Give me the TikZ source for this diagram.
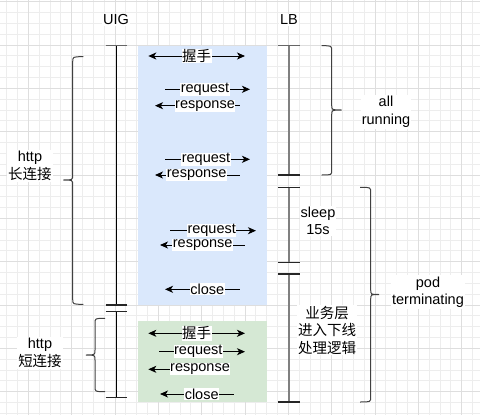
\documentclass[tikz,border=0pt]{standalone}
\usepackage{fontspec}
\setmainfont{Liberation Sans}
\newfontfamily\cjk{Noto Sans CJK SC}
\usetikzlibrary{arrows.meta}
\newcommand\drawmsg[7]{%
  \coordinate (#1a) at (#3,#5);
  \coordinate (#1b) at (#4,#5);
  \draw[msg,#2] (#1a) -- (#1b);
  \node[lbl] (#1) at (#6,#5) {#7};}
\begin{document}
\begin{tikzpicture}[x=1pt,y=-1pt,
  fs/.style={font=\fontsize{14.5}{17.5}\selectfont},
  txt/.style={fs, align=center, inner sep=1pt, fill=white},
  cjktxt/.style={font=\fontsize{14.5}{17.5}\selectfont\cjk, align=center, inner sep=1pt, fill=white},
  lbl/.style={fs, inner sep=0.6pt, fill=white},
  msg/.style={line width=1pt, draw=black},
  r/.style={-{Stealth[length=8pt,width=7pt,inset=2.2pt]}},
  l/.style={{Stealth[length=8pt,width=7pt,inset=2.2pt]}-},
  lr/.style={{Stealth[length=8pt,width=7pt,inset=2.2pt]}-{Stealth[length=8pt,width=7pt,inset=2.2pt]}},
  brc/.style={draw=black!75, line width=1pt},
  capline/.style={line width=1.3pt}]
\useasboundingbox (0,0) rectangle (480,415);
% grid
\foreach \i in {0,...,44}{
  \pgfmathsetmacro\gx{6.67+10.833*\i}
  \draw[black!7, line width=0.8pt] (\gx,0) -- (\gx,415);}
\foreach \j in {0,...,38}{
  \pgfmathsetmacro\gy{1.67+10.833*\j}
  \draw[black!7, line width=0.8pt] (0,\gy) -- (480,\gy);}
\foreach \i in {0,...,11}{
  \pgfmathsetmacro\gx{28.33+43.33*\i}
  \draw[black!13, line width=0.8pt] (\gx,0) -- (\gx,415);}
\foreach \j in {0,...,9}{
  \pgfmathsetmacro\gy{1.67+43.33*\j}
  \draw[black!13, line width=0.8pt] (0,\gy) -- (480,\gy);}
% boxes
\fill[fill={rgb,255:red,218;green,232;blue,252}] (137.7,45.7) rectangle (266.7,305);
\fill[fill={rgb,255:red,213;green,232;blue,212}] (137.7,320.7) rectangle (266.7,401.7);
% UIG lifeline
\coordinate (u0) at (116,45.7);
\coordinate (u1) at (116,305);
\coordinate (u2) at (116,311.7);
\coordinate (u3) at (116,397.7);
\draw[black, line width=1pt] (u0) -- (u1);
\draw[black, line width=1pt] (u2) -- (u3);
\draw[capline, black!60] ([xshift=-10.5pt]u0) -- ([xshift=10.5pt]u0);
\foreach \c in {u1,u2,u3}{\draw[capline, black!85] ([xshift=-10.5pt]\c) -- ([xshift=10.5pt]\c);}
% LB lifeline
\coordinate (b0) at (289,45.7);
\coordinate (b1) at (289,175);
\coordinate (b2) at (289,187.3);
\coordinate (b3) at (289,262.5);
\coordinate (b4) at (289,274);
\coordinate (b5) at (289,402);
\draw[black!50, line width=1.3pt] (b0) -- (b1);
\draw[black!50, line width=1.3pt] (b2) -- (b3);
\draw[black!50, line width=1.3pt] (b4) -- (b5);
\draw[capline, black!60] ([xshift=-11pt]b0) -- ([xshift=11pt]b0);
\foreach \c in {b1,b2,b3,b4,b5}{\draw[capline, black!85] ([xshift=-11pt]\c) -- ([xshift=11pt]\c);}
% braces
\draw[brc] (83.3,56.7) .. controls (72.7,56.7) .. (72.7,62) -- (72.7,175)
  .. controls (72.7,180) .. (63.3,180) .. controls (72.7,180) .. (72.7,185)
  -- (72.7,299) .. controls (72.7,304.3) .. (83.3,304.3);
\draw[brc] (105,318.3) .. controls (95,318.3) .. (95,323.5) -- (95,350)
  .. controls (95,355) .. (86,355) .. controls (95,355) .. (95,360)
  -- (95,386.5) .. controls (95,391.7) .. (105,391.7);
\draw[brc] (321.7,45.7) .. controls (331.7,45.7) .. (331.7,51) -- (331.7,105)
  .. controls (331.7,110) .. (341.7,110) .. controls (331.7,110) .. (331.7,115)
  -- (331.7,170) .. controls (331.7,175) .. (321.7,175);
\draw[brc] (360,187.3) .. controls (370.7,187.3) .. (370.7,192.5) -- (370.7,289.5)
  .. controls (370.7,294.5) .. (379,294.5) .. controls (370.7,294.5) .. (370.7,299.5)
  -- (370.7,397) .. controls (370.7,402) .. (360,402);
% messages (blue)
\drawmsg{m1}{lr}{148.3}{245}{56}{196.7}{\cjk 握手}
\drawmsg{m2}{r}{165}{250}{89.3}{205}{request}
\drawmsg{m3}{l}{155}{240}{105.7}{205}{response}
\drawmsg{m4}{r}{165}{250}{159.3}{206}{request}
\drawmsg{m5}{l}{155}{240}{175}{196.7}{response}
\drawmsg{m6}{r}{170}{256}{230.7}{211.7}{request}
\drawmsg{m7}{l}{160}{245}{245}{202.7}{response}
\drawmsg{m8}{l}{165}{240}{289.3}{207.3}{close}
% messages (green)
\drawmsg{n1}{lr}{148.3}{245}{333.3}{196.7}{\cjk 握手}
\drawmsg{n2}{r}{159.3}{245}{351.7}{198.3}{request}
\drawmsg{n3}{l}{148.3}{230}{369.3}{200}{response}
\drawmsg{n4}{l}{160}{234}{394}{201.7}{close}
% labels
\node[txt] (uig) at (116,20) {UIG};
\node[txt] (lb) at (289,20) {LB};
\node[txt] (long) at (30,166) {http\\{\cjk 长连接}};
\node[txt] (short) at (40,353) {http\\{\cjk 短连接}};
\node[txt] (allr) at (386,112) {all\\running};
\node[txt] (pod) at (428,292) {pod\\terminating};
\node[txt] (sleep) at (318,221) {sleep\\15s};
\node[cjktxt] (biz) at (327,330) {业务层\\进入下线\\处理逻辑};
\end{tikzpicture}
\end{document}
